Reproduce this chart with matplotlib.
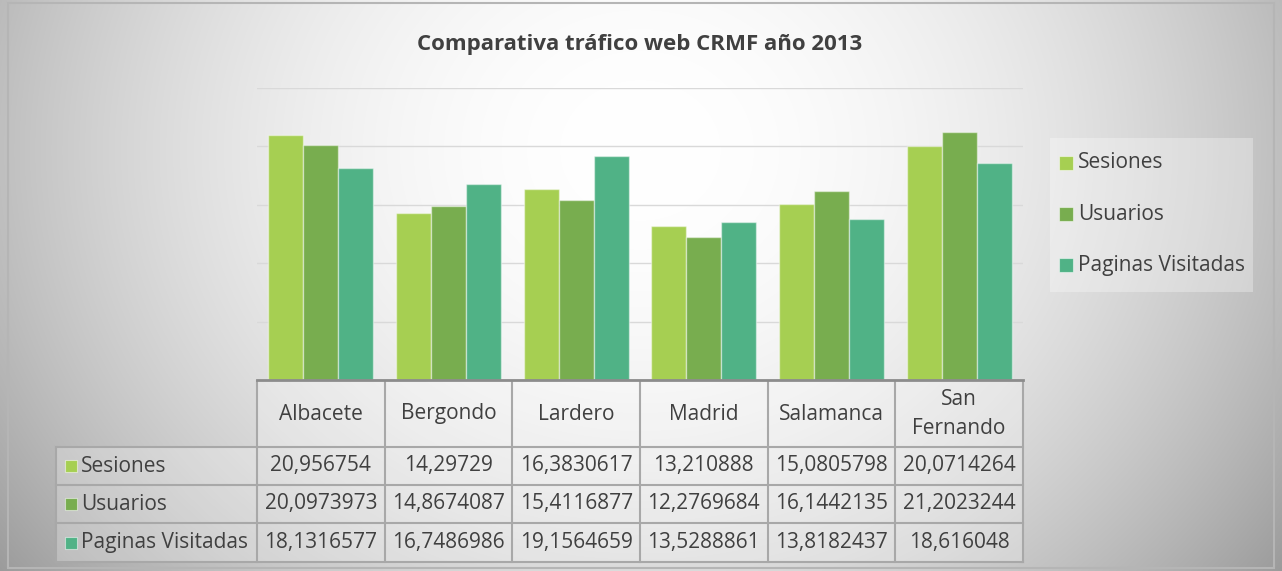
import numpy as np
import matplotlib.pyplot as plt
from matplotlib.patches import Rectangle

# --- datos ---
ciudades = ["Albacete", "Bergondo", "Lardero", "Madrid", "Salamanca", "San\nFernando"]
series = ["Sesiones", "Usuarios", "Paginas Visitadas"]
sesiones = [20.956754, 14.29729, 16.3830617, 13.210888, 15.0805798, 20.0714264]
usuarios = [20.0973973, 14.8674087, 15.4116877, 12.2769684, 16.1442135, 21.2023244]
paginas = [18.1316577, 16.7486986, 19.1564659, 13.5288861, 13.8182437, 18.616048]
textos = [
    ["20,956754", "14,29729", "16,3830617", "13,210888", "15,0805798", "20,0714264"],
    ["20,0973973", "14,8674087", "15,4116877", "12,2769684", "16,1442135", "21,2023244"],
    ["18,1316577", "16,7486986", "19,1564659", "13,5288861", "13,8182437", "18,616048"],
]
colores = ["#A6CF52", "#78AD4F", "#50B286"]

plt.rcParams['font.family'] = ['Open Sans', 'DejaVu Sans']
TXT = "#404040"
W, H = 1282, 571

fig = plt.figure(figsize=(W / 100, H / 100), dpi=100)

# --- fondo con degradado radial ---
bg = fig.add_axes([0, 0, 1, 1])
yy, xx = np.mgrid[0:H, 0:W]
r = np.sqrt(((xx - 640) / 640.0) ** 2 + ((yy - 150) / 560.0) ** 2)
v = np.clip(1.0 - 0.25 * r ** 2.0, 0, 1)
bg.imshow(np.dstack([v, v, v]), extent=(0, W, H, 0), aspect='auto')
bg.set_xlim(0, W)
bg.set_ylim(H, 0)
bg.axis('off')
bg.add_patch(Rectangle((8, 3), W - 16, H - 6, fill=False, ec="#b5b5b5", lw=1.5))

# --- grafico de barras ---
ax = fig.add_axes([257 / W, 1 - 380 / H, (1023 - 257) / W, (380 - 88) / H])
ax.patch.set_alpha(0)
x = np.arange(len(ciudades))
w = 0.275
for k, (vals, c) in enumerate(zip([sesiones, usuarios, paginas], colores)):
    ax.bar(x + (k - 1) * w, vals, w, color=c, edgecolor=(1, 1, 1, 0.45), lw=1, zorder=3)
ax.set_xlim(-0.5, len(ciudades) - 0.5)
ax.set_ylim(0, 25)
ax.set_yticks(np.arange(0, 26, 5))
ax.grid(axis='y', color="#d9d9d9", lw=1, zorder=0)
ax.tick_params(left=False, bottom=False, labelleft=False, labelbottom=False)
for s in ax.spines.values():
    s.set_visible(False)

ax.text((640 - 257) / (1023 - 257), (380 - 50) / (380 - 88),
        "Comparativa tráfico web CRMF año 2013", transform=ax.transAxes,
        ha='center', va='baseline', fontsize=16, fontweight='bold', color=TXT)

# --- tabla de datos ---
tab = fig.add_axes([0, 0, 1, 1])
tab.set_xlim(0, W)
tab.set_ylim(H, 0)
tab.axis('off')
tab.patch.set_alpha(0)

fig.canvas.draw()
bordes = [ax.transData.transform((i - 0.5, 0))[0] for i in range(len(ciudades) + 1)]
xl = 56
filas = [381, 447, 485, 523, 562]
lc = "#a8a8a8"
fs = 15

tab.add_patch(Rectangle((bordes[0], filas[0]), bordes[-1] - bordes[0], filas[-1] - filas[0],
                        fc=(1, 1, 1, 0.25), ec='none'))
tab.add_patch(Rectangle((xl, filas[1]), bordes[0] - xl, filas[-1] - filas[1],
                        fc=(1, 1, 1, 0.25), ec='none'))
for xb in bordes:
    tab.plot([xb, xb], [filas[0], filas[-1]], color=lc, lw=1.5)
tab.plot([xl, xl], [filas[1], filas[-1]], color=lc, lw=1.5)
for yb in filas[1:]:
    tab.plot([xl, bordes[-1]], [yb, yb], color=lc, lw=1.5)
tab.plot([bordes[0], bordes[-1]], [filas[0] - 1, filas[0] - 1], color="#8c8c8c", lw=2)

for i, nombre in enumerate(ciudades):
    cx = (bordes[i] + bordes[i + 1]) / 2
    tab.text(cx, (filas[0] + filas[1]) / 2, nombre, ha='center', va='center',
             fontsize=fs, color=TXT, linespacing=1.45)
    for j in range(len(series)):
        tab.text(cx, (filas[j + 1] + filas[j + 2]) / 2, textos[j][i], ha='center',
                 va='center', fontsize=fs, color=TXT)
for j, nombre in enumerate(series):
    cy = (filas[j + 1] + filas[j + 2]) / 2
    tab.add_patch(Rectangle((65, cy - 6), 12, 12, fc=colores[j], ec=(1, 1, 1, 0.5), lw=0.8))
    tab.text(81, cy, nombre, ha='left', va='center', fontsize=fs, color=TXT)

# --- leyenda ---
tab.add_patch(Rectangle((1050, 138), 203, 154, fc=(1, 1, 1, 0.3), ec='none'))
for j, nombre in enumerate(series):
    cy = 163 + j * 51
    tab.add_patch(Rectangle((1059, cy - 7), 14, 14, fc=colores[j], ec=(1, 1, 1, 0.5), lw=0.8))
    tab.text(1078, cy, nombre, ha='left', va='center', fontsize=15, color=TXT)

fig.savefig("out.png", dpi=100)
